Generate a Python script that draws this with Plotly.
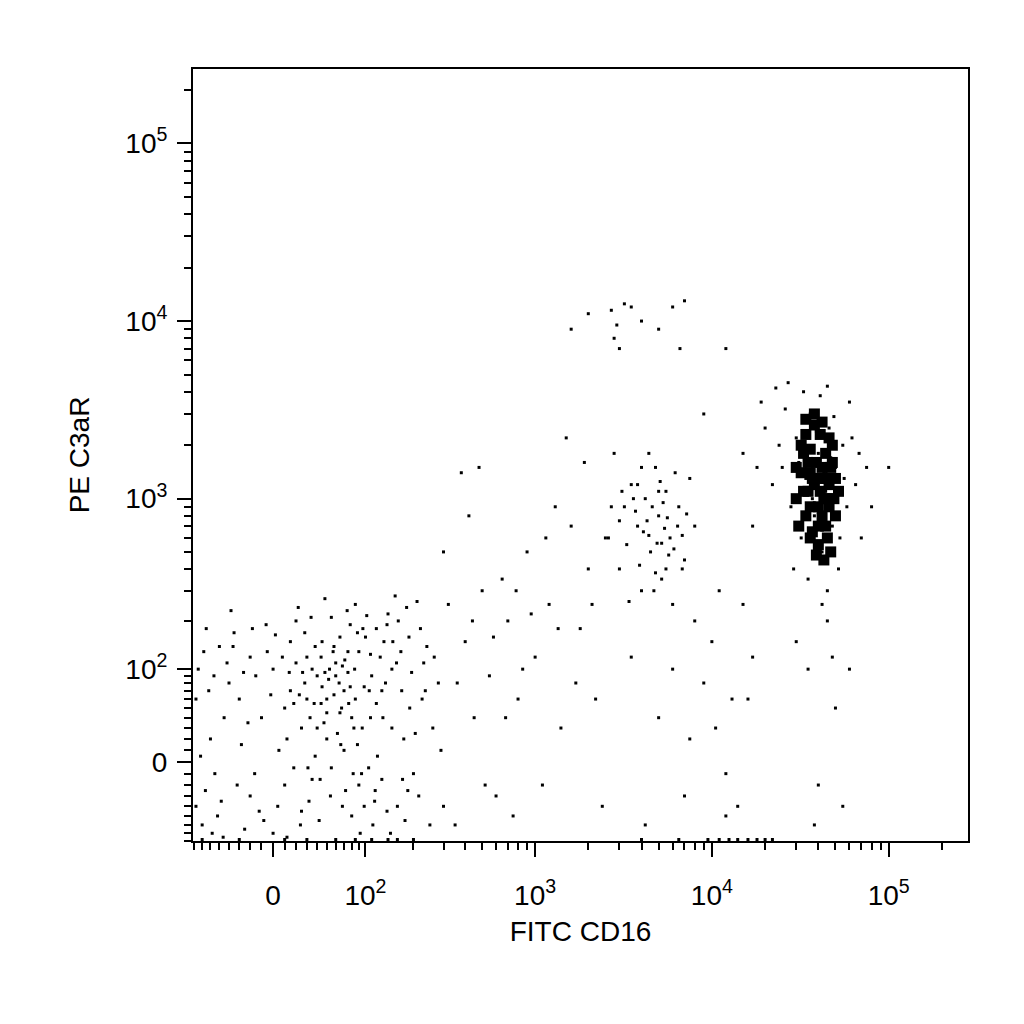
import numpy as np
import plotly.graph_objects as go

# events (FITC CD16, PE C3aR), raw units
low_pop = [(-60,20),(-40,80),(-20,-30),(10,50),(30,120),(50,60),(70,10),(90,-20),(110,90),(130,40),
           (150,150),(170,70),(200,-10),(230,110),(260,30),(-70,-60),(-50,140),(-30,60),(0,-70),(20,200),
           (40,30),(60,90),(80,-50),(100,160),(120,5),(140,220),(160,-40),(190,50),(220,180),(250,-60),
           (-75,100),(-55,-10),(-35,170),(-15,90),(5,10),(25,-45),(45,150),(65,45),(85,250),(105,-5),
           (125,120),(145,-70),(175,20),(210,260),(280,80),(-65,180),(-45,40),(-25,-65),(-5,130),(15,70),
           (35,-15),(55,210),(75,130),(95,30),(115,-35),(135,80),(155,280),(185,-25),(240,140),(290,10),
           (30,60),(40,90),(50,20),(60,110),(70,70),(80,40),(45,75),(55,-5),(65,160),(35,100),
           (25,30),(75,95),(85,60),(20,110),(90,130),(50,45),(62,25),(38,140),(72,-25),(28,80),
           (-10,40),(0,100),(10,-20),(15,150),(-20,120),(42,-55),(58,65),(68,105),(88,15),(98,75),
           (108,125),(118,55),(128,-15),(138,190),(148,100),(168,130),(178,-55),(195,95),(205,25),(225,60),
           (-78,-40),(-78,60),(-68,130),(-58,-70),(-48,-35),(-38,230),(-28,15),(-18,180),(-8,-55),(2,165),
           (12,-75),(22,240),(32,-35),(48,270),(78,190),(92,-70),(102,215),(112,-60),(162,200),(182,240),
           (12,20),(18,55),(26,95),(33,40),(44,120),(52,85),(66,15),(76,55),(84,100),(94,-10),
           (-30,-78),(10,-78),(60,-78),(110,-78),(160,-78),(-70,-78),(30,-78),(85,-78),(140,-78),(200,-78),
           (-72,5),(-62,70),(-52,-50),(-42,110),(-32,-20),(-22,35),(-12,-45),(-2,65),(8,120),(18,-5),
           (28,170),(38,5),(48,95),(58,140),(68,-40),(78,75),(88,170),(98,-40),(108,40),(118,180),
           (128,70),(138,-45),(148,30),(158,110),(172,-15),(188,160),(215,-30),(235,70),(265,120),(300,-40),
           (-66,-25),(-56,90),(-46,-75),(-36,140),(-26,95),(-16,-10),(-6,190),(4,-40),(14,95),(24,-60),
           (34,210),(44,55),(54,-30),(64,80),(74,230),(82,-10),(96,180),(106,70),(116,-25),(132,150),
           (23,65),(37,55),(47,35),(57,130),(67,50),(83,30),(53,100),(43,-15),(71,115),(31,-5)]
mid_pop = [(350,-60),(400,150),(450,40),(500,300),(550,90),(600,-30),(700,200),(800,60),(900,500),(1000,120),
           (1200,250),(1400,30),(1600,700),(1800,180),(2000,400),(380,1400),(480,1500),(300,500),(420,800),(650,350),
           (750,-50),(850,100),(950,220),(1100,-20),(1300,900),(1500,2200),(1700,80),(1900,1600),(2200,60),(2400,-40),
           (5000,40),(6000,100),(7000,-30),(8000,200),(9000,80),(10000,150),(12000,-10),(11000,300),(13000,60),(15000,250),
           (9500,-78),(11000,-78),(12500,-78),(14000,-78),(16000,-78),(18000,-78),(20000,-78),(22000,-78),(4000,-78),(6500,-78),
           (10500,30),(12000,-50),(14000,-40),(16000,60),(17000,120),(3500,120),(4200,-60),(7500,20),(6800,400),(2600,600),
           (320,250),(360,80),(440,200),(520,-20),(580,160),(680,40),(780,300),(1150,600),(1350,180),(2100,250)]
b_pop = [(2500,600),(2800,1800),(3000,400),(3200,900),(3500,1200),(3800,700),(4000,300),(4200,1000),(4500,500),(4800,1500),
         (5000,800),(5200,350),(5500,1100),(5800,600),(6000,250),(6500,900),(7000,450),(7500,1300),(8000,700),(3300,550),
         (3700,850),(4100,650),(4400,1800),(4700,300),(5300,950),(5700,480),(6200,1400),(6800,620),(3100,1100),(3900,420),
         (4300,750),(4900,560),(5100,1250),(5600,780),(6100,520),(2700,900),(3400,260),(4600,900),(5400,680),(7200,820),
         (1600,9000),(2000,11000),(2800,8000),(3000,7000),(3500,12000),(4000,10000),(5000,9000),(6000,12000),(7000,13000),(3200,12500),
         (12000,7000),(9000,3000),(2700,11500),(2900,9500),(6600,7000),
         (3600,1000),(4400,620),(5000,1100),(5500,400),(3000,750),(4000,1500),(6400,700),(4800,380),(3800,1200),(5200,560)]
blob_pop = [(25000,1500),(28000,900),(30000,2200),(32000,600),(34000,1300),(36000,3000),(38000,800),(40000,1800),(42000,500),(44000,1100),
            (46000,2500),(48000,700),(50000,1500),(52000,400),(55000,2000),(58000,900),(60000,3500),(65000,1200),(70000,600),(26000,3200),
            (29000,400),(31000,1600),(33000,2800),(35000,350),(37000,1000),(39000,2400),(41000,3800),(43000,1400),(45000,300),(47000,1700),
            (49000,2900),(51000,1000),(53000,600),(56000,1300),(62000,2200),(68000,1800),(24000,2000),(22000,1200),(20000,2500),(18000,1500),
            (35000,100),(40000,-20),(45000,200),(50000,50),(38000,-60),(48000,120),(42000,250),(30000,150),(55000,-40),(60000,100),
            (75000,1500),(80000,900),(100000,1500),(15000,1800),(17000,700),(19000,3500),(23000,4200),(27000,4500),(33000,4000),(45000,4300)]
core_pop = [(30000,1000),(32000,1400),(34000,800),(36000,1900),(38000,1200),(40000,900),(42000,1500),(44000,700),(46000,1200),(48000,2000),
            (35000,1100),(37000,650),(39000,1600),(41000,2300),(43000,1000),(45000,600),(47000,1500),(33000,1800),(31000,700),(49000,1000),
            (36000,1400),(40000,1300),(44000,1800),(38000,2600),(42000,800),(46000,900),(34000,2300),(50000,1300),(40000,550),(36000,900),
            (30000,1500),(32000,2000),(34000,2800),(38000,3000),(42000,2700),(46000,2200),(48000,1600),(44000,1300),(40000,700),(36000,600),
            (50000,800),(52000,1100),(47000,500),(43000,450),(39000,480),(35000,1600),(41000,1100),(37000,1300),(45000,1000),(33000,1100)]

W = 66.0
def tf(v):
    return np.arcsinh(np.asarray(v, float) / W) / np.log(10)

def unzip(pop):
    a = np.array(pop, float)
    return tf(a[:, 0]), tf(a[:, 1])

fig = go.Figure()
for pop, size in [(low_pop, 3), (mid_pop, 3), (b_pop, 3), (blob_pop, 3), (core_pop, 11)]:
    x, y = unzip(pop)
    fig.add_trace(go.Scatter(x=x, y=y, mode="markers",
                             marker=dict(color="black", size=size, symbol="square"),
                             showlegend=False))

major_v = [0, 100, 1000, 10000, 100000]
major_t = ["0", "10<sup>2</sup>", "10<sup>3</sup>", "10<sup>4</sup>", "10<sup>5</sup>"]
minor_v = [m * 10 ** k for k in range(1, 5) for m in range(2, 10)] + [-m * 10 for m in range(1, 9)] + [10, 200000]
font = dict(family="Liberation Sans", size=28, color="black")
ax = dict(tickvals=list(tf(major_v)), ticktext=major_t, ticks="outside", ticklen=14, tickwidth=2,
          tickcolor="black", showline=True, linecolor="black", linewidth=2, mirror=True,
          showgrid=False, zeroline=False,
          minor=dict(tickvals=list(tf(minor_v)), ticks="outside", ticklen=7, tickwidth=1.5, tickcolor="black"),
          tickfont=font)
fig.update_layout(width=1024, height=1024, plot_bgcolor="white", paper_bgcolor="white",
                  margin=dict(l=185, r=64, t=61, b=191),
                  xaxis=dict(ax, range=[tf(-82), 3.93], ticklabelstandoff=14,
                             title=dict(text="FITC CD16", font=font, standoff=12)),
                  yaxis=dict(ax, range=[tf(-80), 3.9], ticklabelstandoff=4,
                             title=dict(text="PE C3aR", font=font, standoff=28)))
fig.write_html("out.html")
